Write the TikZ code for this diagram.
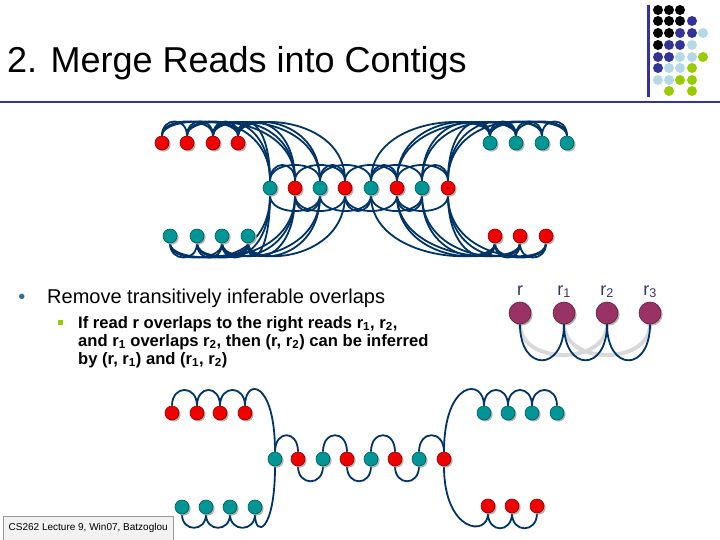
\documentclass[tikz,border=0pt]{standalone}
\usepackage{fontspec}
\setmainfont{Liberation Sans}
\usetikzlibrary{shadows}
\definecolor{linkblue}{RGB}{0,51,102}
\definecolor{readred}{RGB}{240,0,0}
\definecolor{readteal}{RGB}{0,150,150}
\definecolor{readplum}{RGB}{153,51,102}
\definecolor{slideblue}{RGB}{51,51,153}
\definecolor{slidelight}{RGB}{179,217,230}
\definecolor{slidegreen}{RGB}{153,204,0}
\definecolor{labelblue}{RGB}{51,51,102}
\definecolor{bulletblue}{RGB}{47,111,143}
\pgfdeclarelayer{background}
\pgfsetlayers{background,main}
\tikzset{
  read/.style={circle, draw, line width=0.6pt, minimum size=14pt, inner sep=0pt,
    drop shadow={shadow xshift=1.6pt, shadow yshift=-1.6pt, fill=black!30, opacity=1}},
  redread/.style={read, fill=readred, draw=readred!60!black},
  tealread/.style={read, fill=readteal, draw=readteal!60!black},
  plumread/.style={read, fill=readplum, draw=readplum!60!black, minimum size=22pt},
  link/.style={draw=linkblue, line width=1.8pt},
  shortlink/.style={draw=linkblue, line width=1.8pt},
  dropped/.style={draw=black!15, line width=4pt},
  dot/.style={circle, minimum size=10pt, inner sep=0pt},
  slidetext/.style={anchor=base west, inner sep=0pt}
}
\begin{document}
\begin{tikzpicture}[x=1pt,y=-1pt]
\useasboundingbox (0,0) rectangle (720,540);
% title
\node [slidetext, font=\fontsize{36}{40}\selectfont] (title) at (7,73) {2. Merge Reads into Contigs};
\draw [slideblue, line width=2pt] (0,102) -- (720,102);
\draw [slideblue, line width=3pt] (648,5) -- (648,97);
% corner dots
\node [dot, fill=black] (d11) at (658,10) {};
\node [dot, fill=black] (d12) at (669,10) {};
\node [dot, fill=black] (d13) at (680,10) {};
\node [dot, fill=black] (d21) at (658,21) {};
\node [dot, fill=black] (d22) at (669,21) {};
\node [dot, fill=black] (d23) at (680,21) {};
\node [dot, fill=slideblue] (d24) at (692,21) {};
\node [dot, fill=black] (d31) at (658,33) {};
\node [dot, fill=black] (d32) at (669,33) {};
\node [dot, fill=slideblue] (d33) at (680,33) {};
\node [dot, fill=slideblue] (d34) at (692,33) {};
\node [dot, fill=slidelight] (d35) at (703,33) {};
\node [dot, fill=black] (d41) at (658,45) {};
\node [dot, fill=slideblue] (d42) at (669,45) {};
\node [dot, fill=slideblue] (d43) at (680,45) {};
\node [dot, fill=slidelight] (d44) at (692,45) {};
\node [dot, fill=slideblue] (d51) at (658,57) {};
\node [dot, fill=slideblue] (d52) at (669,57) {};
\node [dot, fill=slidelight] (d53) at (680,57) {};
\node [dot, fill=slidelight] (d54) at (692,57) {};
\node [dot, fill=slidegreen] (d55) at (703,57) {};
\node [dot, fill=slideblue] (d61) at (658,68) {};
\node [dot, fill=slidelight] (d62) at (669,68) {};
\node [dot, fill=slidelight] (d63) at (680,68) {};
\node [dot, fill=slidegreen] (d64) at (692,68) {};
\node [dot, fill=slidelight] (d71) at (658,80) {};
\node [dot, fill=slidelight] (d72) at (669,80) {};
\node [dot, fill=slidegreen] (d73) at (680,80) {};
\node [dot, fill=slidegreen] (d74) at (692,80) {};
\node [dot, fill=slidegreen] (d82) at (669,91) {};
\node [dot, fill=slidegreen] (d84) at (692,91) {};
% full overlap graph
\node [redread] (fa1) at (162,143) {};
\node [redread] (fa2) at (187,143) {};
\node [redread] (fa3) at (213,143) {};
\node [redread] (fa4) at (238,143) {};
\node [tealread] (fm1) at (270,188) {};
\node [redread] (fm2) at (295,188) {};
\node [tealread] (fm3) at (320,188) {};
\node [redread] (fm4) at (345,188) {};
\node [tealread] (fm5) at (371,188) {};
\node [redread] (fm6) at (397,188) {};
\node [tealread] (fm7) at (422,188) {};
\node [redread] (fm8) at (448,188) {};
\node [tealread] (fb1) at (170,236) {};
\node [tealread] (fb2) at (197,236) {};
\node [tealread] (fb3) at (222,236) {};
\node [tealread] (fb4) at (248,236) {};
\node [tealread] (fc1) at (490,143) {};
\node [tealread] (fc2) at (516,143) {};
\node [tealread] (fc3) at (542,143) {};
\node [tealread] (fc4) at (567,143) {};
\node [redread] (fd1) at (495,236) {};
\node [redread] (fd2) at (520,236) {};
\node [redread] (fd3) at (546,236) {};
\begin{pgfonlayer}{background}
\draw [link] (fa1.north) .. controls +(0,-19) and +(0,-19) .. (fa2.north);
\draw [link] (fa1.north) .. controls +(0,-19) and +(0,-19) .. (fa3.north);
\draw [link] (fa1.north) .. controls +(0,-19) and +(0,-19) .. (fa4.north);
\draw [link] (fa2.north) .. controls +(0,-19) and +(0,-19) .. (fa3.north);
\draw [link] (fa2.north) .. controls +(0,-19) and +(0,-19) .. (fa4.north);
\draw [link] (fa3.north) .. controls +(0,-19) and +(0,-19) .. (fa4.north);
\draw [link] (fa2.north) .. controls +(0,-24) and +(0,-66) .. (fm1.north);
\draw [link] (fa2.north) .. controls +(0,-24) and +(0,-66) .. (fm2.north);
\draw [link] (fa3.north) .. controls +(0,-24) and +(0,-66) .. (fm1.north);
\draw [link] (fa3.north) .. controls +(0,-24) and +(0,-66) .. (fm2.north);
\draw [link] (fa3.north) .. controls +(0,-24) and +(0,-66) .. (fm3.north);
\draw [link] (fa4.north) .. controls +(0,-24) and +(0,-66) .. (fm1.north);
\draw [link] (fa4.north) .. controls +(0,-24) and +(0,-66) .. (fm2.north);
\draw [link] (fa4.north) .. controls +(0,-24) and +(0,-66) .. (fm3.north);
\draw [link] (fa4.north) .. controls +(0,-24) and +(0,-66) .. (fm4.north);
\draw [link] (fb1.south) .. controls +(0,19) and +(0,19) .. (fb2.south);
\draw [link] (fb1.south) .. controls +(0,19) and +(0,19) .. (fb3.south);
\draw [link] (fb1.south) .. controls +(0,19) and +(0,19) .. (fb4.south);
\draw [link] (fb2.south) .. controls +(0,19) and +(0,19) .. (fb3.south);
\draw [link] (fb2.south) .. controls +(0,19) and +(0,19) .. (fb4.south);
\draw [link] (fb3.south) .. controls +(0,19) and +(0,19) .. (fb4.south);
\draw [link] (fb2.south) .. controls +(0,24) and +(0,66) .. (fm1.south);
\draw [link] (fb2.south) .. controls +(0,24) and +(0,66) .. (fm2.south);
\draw [link] (fb3.south) .. controls +(0,24) and +(0,66) .. (fm1.south);
\draw [link] (fb3.south) .. controls +(0,24) and +(0,66) .. (fm2.south);
\draw [link] (fb3.south) .. controls +(0,24) and +(0,66) .. (fm3.south);
\draw [link] (fb4.south) .. controls +(0,24) and +(0,66) .. (fm1.south);
\draw [link] (fb4.south) .. controls +(0,24) and +(0,66) .. (fm2.south);
\draw [link] (fb4.south) .. controls +(0,24) and +(0,66) .. (fm3.south);
\draw [link] (fb4.south) .. controls +(0,24) and +(0,66) .. (fm4.south);
\draw [link] (fm1.north) .. controls +(0,-21) and +(0,-21) .. (fm2.north);
\draw [link] (fm1.north) .. controls +(0,-21) and +(0,-21) .. (fm3.north);
\draw [link] (fm2.north) .. controls +(0,-21) and +(0,-21) .. (fm4.north);
\draw [link] (fm3.north) .. controls +(0,-21) and +(0,-21) .. (fm4.north);
\draw [link] (fm3.north) .. controls +(0,-21) and +(0,-21) .. (fm5.north);
\draw [link] (fm4.north) .. controls +(0,-21) and +(0,-21) .. (fm6.north);
\draw [link] (fm5.north) .. controls +(0,-21) and +(0,-21) .. (fm6.north);
\draw [link] (fm5.north) .. controls +(0,-21) and +(0,-21) .. (fm7.north);
\draw [link] (fm6.north) .. controls +(0,-21) and +(0,-21) .. (fm8.north);
\draw [link] (fm7.north) .. controls +(0,-21) and +(0,-21) .. (fm8.north);
\draw [link] (fm1.south) .. controls +(0,21) and +(0,21) .. (fm3.south);
\draw [link] (fm2.south) .. controls +(0,21) and +(0,21) .. (fm3.south);
\draw [link] (fm2.south) .. controls +(0,21) and +(0,21) .. (fm4.south);
\draw [link] (fm3.south) .. controls +(0,21) and +(0,21) .. (fm5.south);
\draw [link] (fm4.south) .. controls +(0,21) and +(0,21) .. (fm5.south);
\draw [link] (fm4.south) .. controls +(0,21) and +(0,21) .. (fm6.south);
\draw [link] (fm5.south) .. controls +(0,21) and +(0,21) .. (fm7.south);
\draw [link] (fm6.south) .. controls +(0,21) and +(0,21) .. (fm7.south);
\draw [link] (fm6.south) .. controls +(0,21) and +(0,21) .. (fm8.south);
\draw [link] (fm5.north) .. controls +(0,-66) and +(0,-24) .. (fc1.north);
\draw [link] (fm6.north) .. controls +(0,-66) and +(0,-24) .. (fc1.north);
\draw [link] (fm6.north) .. controls +(0,-66) and +(0,-24) .. (fc2.north);
\draw [link] (fm7.north) .. controls +(0,-66) and +(0,-24) .. (fc1.north);
\draw [link] (fm7.north) .. controls +(0,-66) and +(0,-24) .. (fc2.north);
\draw [link] (fm8.north) .. controls +(0,-66) and +(0,-24) .. (fc1.north);
\draw [link] (fm8.north) .. controls +(0,-66) and +(0,-24) .. (fc2.north);
\draw [link] (fm8.north) .. controls +(0,-66) and +(0,-24) .. (fc3.north);
\draw [link] (fm5.south) .. controls +(0,66) and +(0,24) .. (fd1.south);
\draw [link] (fm6.south) .. controls +(0,66) and +(0,24) .. (fd1.south);
\draw [link] (fm6.south) .. controls +(0,66) and +(0,24) .. (fd2.south);
\draw [link] (fm7.south) .. controls +(0,66) and +(0,24) .. (fd1.south);
\draw [link] (fm7.south) .. controls +(0,66) and +(0,24) .. (fd2.south);
\draw [link] (fm8.south) .. controls +(0,66) and +(0,24) .. (fd1.south);
\draw [link] (fm8.south) .. controls +(0,66) and +(0,24) .. (fd2.south);
\draw [link] (fm8.south) .. controls +(0,66) and +(0,24) .. (fd3.south);
\draw [link] (fc1.north) .. controls +(0,-19) and +(0,-19) .. (fc2.north);
\draw [link] (fc1.north) .. controls +(0,-19) and +(0,-19) .. (fc3.north);
\draw [link] (fc1.north) .. controls +(0,-19) and +(0,-19) .. (fc4.north);
\draw [link] (fc2.north) .. controls +(0,-19) and +(0,-19) .. (fc3.north);
\draw [link] (fc2.north) .. controls +(0,-19) and +(0,-19) .. (fc4.north);
\draw [link] (fc3.north) .. controls +(0,-19) and +(0,-19) .. (fc4.north);
\draw [link] (fd1.south) .. controls +(0,19) and +(0,19) .. (fd2.south);
\draw [link] (fd1.south) .. controls +(0,19) and +(0,19) .. (fd3.south);
\draw [link] (fd2.south) .. controls +(0,19) and +(0,19) .. (fd3.south);
\end{pgfonlayer}
% text
\node [anchor=base, inner sep=0pt, text=bulletblue, font=\fontsize{20}{24}\selectfont] (bullet) at (22,303) {•};
\node [slidetext, font=\fontsize{20}{24}\selectfont] (point) at (47,303) {Remove transitively inferable overlaps};
\node [fill=slidegreen, minimum size=5pt, inner sep=0pt] (subbullet) at (60,322) {};
\node [slidetext, font=\fontsize{16.6}{18}\selectfont\bfseries] (line1) at (78,328) {If read r overlaps to the right reads r\textsubscript{1}, r\textsubscript{2},};
\node [slidetext, font=\fontsize{16.6}{18}\selectfont\bfseries] (line2) at (78,346) {and r\textsubscript{1} overlaps r\textsubscript{2}, then (r, r\textsubscript{2}) can be inferred};
\node [slidetext, font=\fontsize{16.6}{18}\selectfont\bfseries] (line3) at (78,364) {by (r, r\textsubscript{1}) and (r\textsubscript{1}, r\textsubscript{2})};
% r, r1, r2, r3
\node [plumread] (pr) at (520,313) {};
\node [plumread] (pr1) at (564,313) {};
\node [plumread] (pr2) at (607,313) {};
\node [plumread] (pr3) at (650,313) {};
\node [anchor=base, text=labelblue, font=\fontsize{18}{20}\selectfont] (lr) at (520,295) {r};
\node [anchor=base, text=labelblue, font=\fontsize{18}{20}\selectfont] (lr1) at (564,295) {r\textsubscript{1}};
\node [anchor=base, text=labelblue, font=\fontsize{18}{20}\selectfont] (lr2) at (607,295) {r\textsubscript{2}};
\node [anchor=base, text=labelblue, font=\fontsize{18}{20}\selectfont] (lr3) at (650,295) {r\textsubscript{3}};
\begin{pgfonlayer}{background}
\draw [dropped] (pr.south) .. controls +(0,41) and +(0,41) .. (pr2.south);
\draw [dropped] (pr1.south) .. controls +(0,41) and +(0,41) .. (pr3.south);
\end{pgfonlayer}
\draw [shortlink] (pr.south) .. controls +(0,48) and +(0,48) .. (pr1.south);
\draw [shortlink] (pr1.south) .. controls +(0,48) and +(0,48) .. (pr2.south);
\draw [shortlink] (pr2.south) .. controls +(0,48) and +(0,48) .. (pr3.south);
% reduced graph
\node [redread] (ra1) at (172,413) {};
\node [redread] (ra2) at (197,413) {};
\node [redread] (ra3) at (220,413) {};
\node [redread] (ra4) at (245,413) {};
\node [tealread] (rm1) at (275,459) {};
\node [redread] (rm2) at (298,459) {};
\node [tealread] (rm3) at (323,459) {};
\node [redread] (rm4) at (347,459) {};
\node [tealread] (rm5) at (371,459) {};
\node [redread] (rm6) at (395,459) {};
\node [tealread] (rm7) at (419,459) {};
\node [redread] (rm8) at (444,459) {};
\node [tealread] (rb1) at (182,507) {};
\node [tealread] (rb2) at (206,507) {};
\node [tealread] (rb3) at (230,507) {};
\node [tealread] (rb4) at (255,507) {};
\node [tealread] (rc1) at (484,413) {};
\node [tealread] (rc2) at (508,413) {};
\node [tealread] (rc3) at (532,413) {};
\node [tealread] (rc4) at (557,413) {};
\node [redread] (rd1) at (488,506) {};
\node [redread] (rd2) at (512,506) {};
\node [redread] (rd3) at (537,506) {};
\begin{pgfonlayer}{background}
\draw [shortlink] (ra1.north) .. controls +(0,-21) and +(0,-21) .. (ra2.north);
\draw [shortlink] (ra2.north) .. controls +(0,-21) and +(0,-21) .. (ra3.north);
\draw [shortlink] (ra3.north) .. controls +(0,-21) and +(0,-21) .. (ra4.north);
\draw [shortlink] (ra4.north) .. controls +(0,-28) and +(0,-72) .. (rm1.north);
\draw [shortlink] (rm1.north) .. controls +(0,-22) and +(0,-22) .. (rm2.north);
\draw [shortlink] (rm2.south) .. controls +(0,20) and +(0,20) .. (rm3.south);
\draw [shortlink] (rm3.north) .. controls +(0,-22) and +(0,-22) .. (rm4.north);
\draw [shortlink] (rm4.south) .. controls +(0,20) and +(0,20) .. (rm5.south);
\draw [shortlink] (rm5.north) .. controls +(0,-22) and +(0,-22) .. (rm6.north);
\draw [shortlink] (rm6.south) .. controls +(0,20) and +(0,20) .. (rm7.south);
\draw [shortlink] (rm7.north) .. controls +(0,-22) and +(0,-22) .. (rm8.north);
\draw [shortlink] (rb1.south) .. controls +(0,18) and +(0,18) .. (rb2.south);
\draw [shortlink] (rb2.south) .. controls +(0,18) and +(0,18) .. (rb3.south);
\draw [shortlink] (rb3.south) .. controls +(0,18) and +(0,18) .. (rb4.south);
\draw [shortlink] (rb4.south) .. controls +(0,24) and +(0,66) .. (rm1.south);
\draw [shortlink] (rm8.north) .. controls +(0,-72) and +(0,-28) .. (rc1.north);
\draw [shortlink] (rm8.south) .. controls +(0,66) and +(0,24) .. (rd1.south);
\draw [shortlink] (rc1.north) .. controls +(0,-21) and +(0,-21) .. (rc2.north);
\draw [shortlink] (rc2.north) .. controls +(0,-21) and +(0,-21) .. (rc3.north);
\draw [shortlink] (rc3.north) .. controls +(0,-21) and +(0,-21) .. (rc4.north);
\draw [shortlink] (rd1.south) .. controls +(0,20) and +(0,20) .. (rd2.south);
\draw [shortlink] (rd2.south) .. controls +(0,20) and +(0,20) .. (rd3.south);
\end{pgfonlayer}
% footer
\node [draw=black!40, fill=black!5, anchor=south west, minimum width=170pt, minimum height=24pt, font=\fontsize{10}{12}\selectfont] (footer) at (3,540) {CS262 Lecture 9, Win07, Batzoglou};
\end{tikzpicture}
\end{document}
